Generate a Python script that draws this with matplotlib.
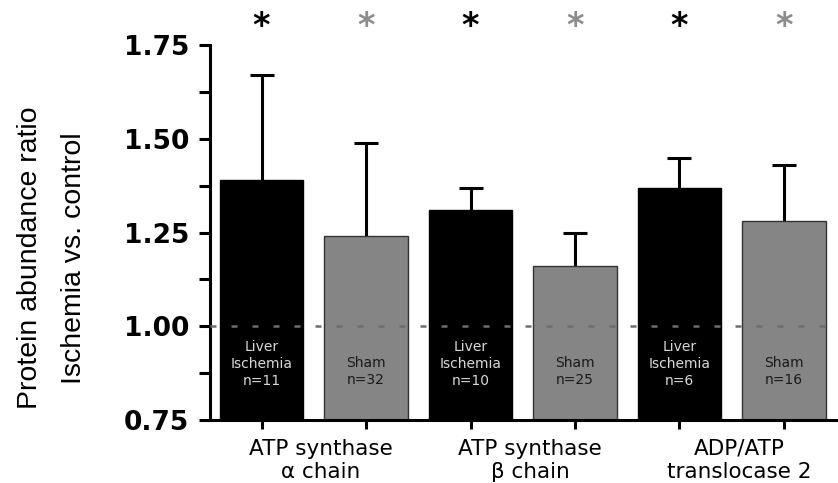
import numpy as np
import matplotlib
matplotlib.use('Agg')
import matplotlib.pyplot as plt

groups = ['ATP synthase\nα chain', 'ATP synthase\nβ chain', 'ADP/ATP\ntranslocase 2']
ischemia_mean = [1.39, 1.31, 1.37]
ischemia_err = [0.28, 0.06, 0.08]
ischemia_n = [11, 10, 6]
sham_mean = [1.24, 1.16, 1.28]
sham_err = [0.25, 0.09, 0.15]
sham_n = [32, 25, 16]
y_ticks = [0.75, 1.00, 1.25, 1.50, 1.75]


def main():
    black = '#000000'
    grey = '#858585'
    star_grey = '#8c8c8c'

    fig = plt.figure(figsize=(8.38, 4.83), dpi=100)
    ax = fig.add_axes([0.2506, 0.1304, 0.7494, 0.7764])

    x_isch = np.arange(len(groups)) * 2
    x_sham = x_isch + 1
    width = 0.8

    ax.bar(x_isch, np.array(ischemia_mean) - 0.75, width, bottom=0.75,
           color=black, edgecolor=black, linewidth=1, zorder=2)
    ax.bar(x_sham, np.array(sham_mean) - 0.75, width, bottom=0.75,
           color=grey, edgecolor='#333333', linewidth=1, zorder=2)

    # only the upper half of the error bars is shown
    for xs, means, errs in [(x_isch, ischemia_mean, ischemia_err),
                            (x_sham, sham_mean, sham_err)]:
        eb = ax.errorbar(xs, means, yerr=[np.zeros(len(errs)), errs],
                         fmt='none', ecolor='black', elinewidth=2.2,
                         capsize=8.6, capthick=2.2, zorder=1)
        eb[1][0].set_visible(False)

    ax.axhline(1.0, color='#6e6e6e', lw=1.8, linestyle=(0, (2.4, 6)), zorder=3)

    # labels inside the bars
    for x, n in zip(x_isch, ischemia_n):
        ax.text(x, 0.90, 'Liver\nIschemia\nn=%d' % n, ha='center', va='center',
                fontsize=10, color='#d8d8d8', linespacing=1.25, zorder=4)
    for x, n in zip(x_sham, sham_n):
        ax.text(x, 0.88, 'Sham\nn=%d' % n, ha='center', va='center',
                fontsize=10, color='#1a1a1a', linespacing=1.25, zorder=4)

    # significance stars
    for x in x_isch:
        ax.text(x, 1.80, '*', ha='center', va='center', fontsize=24,
                fontweight='bold', color=black, clip_on=False)
    for x in x_sham:
        ax.text(x, 1.80, '*', ha='center', va='center', fontsize=24,
                fontweight='bold', color=star_grey, clip_on=False)

    ax.set_xlim(-0.493, 5.517)
    ax.set_ylim(0.75, 1.75)

    ax.set_yticks(y_ticks)
    ax.set_yticklabels(['%.2f' % v for v in y_ticks], fontsize=19,
                       fontweight='bold')
    ax.set_yticks(np.arange(0.875, 1.75, 0.25), minor=True)
    ax.set_xticks(np.arange(len(groups) * 2))
    ax.set_xticklabels([])

    ax.tick_params(axis='y', which='both', length=8, width=2.2, pad=7,
                   direction='out')
    ax.tick_params(axis='x', length=6.5, width=2.2, direction='out')

    for side in ['top', 'right']:
        ax.spines[side].set_visible(False)
    for side in ['left', 'bottom']:
        ax.spines[side].set_linewidth(2.2)

    trans = ax.get_xaxis_transform()
    for i, name in enumerate(groups):
        ax.text(x_isch[i] + 0.57, -0.05, name, transform=trans, ha='center',
                va='top', fontsize=15.5, linespacing=1.2)

    ax.set_ylabel('Protein abundance ratio\nIschemia vs. control',
                  family='Liberation Sans', fontsize=20.5, linespacing=1.9)
    ax.yaxis.label.set_verticalalignment('center')
    ax.yaxis.set_label_coords(-0.252, 0.432)

    fig.savefig('out.png', dpi=100)


if __name__ == '__main__':
    main()
